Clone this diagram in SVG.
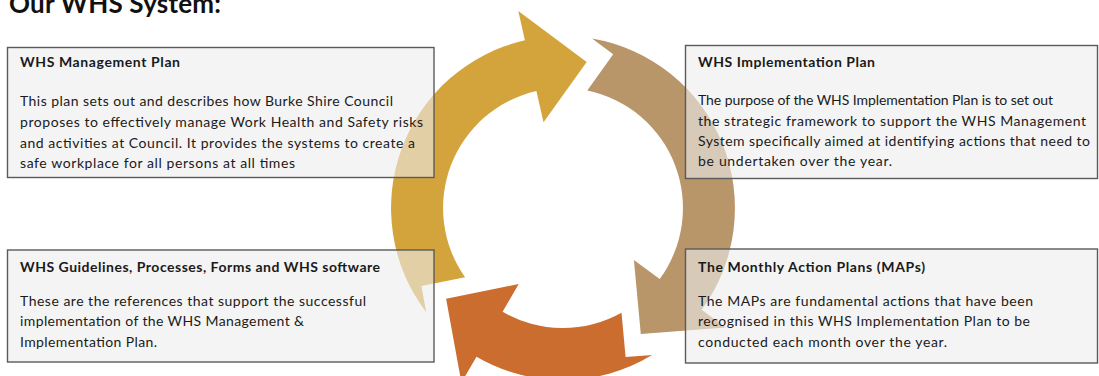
<svg xmlns="http://www.w3.org/2000/svg" width="1099" height="376" viewBox="0 0 1099 376">
  <style>
    .heading { font-family: Lato, "Liberation Sans", sans-serif; font-weight: 700; font-size: 26px; fill: #111; }
    .box { fill: #ececec; fill-opacity: 0.6; stroke: #5a5a5a; stroke-width: 1.4; }
    .ttl { font-family: Lato, "Liberation Sans", sans-serif; font-weight: 700; font-size: 14px; fill: #1a1a1a; }
    .txt { font-family: Lato, "Liberation Sans", sans-serif; font-size: 14px; fill: #1a1a1a; }
    .gold { fill: #d4a43c; }
    .tan { fill: #b9966a; }
    .rust { fill: #cc6d30; }
  </style>

  <rect width="1099" height="376" fill="#ffffff"/>

  <text class="heading" x="9" y="13" textLength="212">Our WHS System:</text>

  <!-- cycle of three curved arrows around (563,208), ring radii 120..172 -->
  <g id="connectors">
    <path id="arrow-gold" class="gold" d="M426.2,312.2 A172,172 0 0 1 524.9,40.3 L518.3,11.0 L586.7,61.9 L543.5,122.2 L536.4,91.0 A120,120 0 0 0 465.1,277.3 L421.4,286.1 Z"/>
    <path id="arrow-tan" class="tan" d="M592.0,38.5 A172,172 0 0 1 701.6,309.8 L725.8,327.6 L640.8,333.9 L633.9,260.1 L659.7,279.0 A120,120 0 0 0 587.3,90.5 L613.2,54.3 Z"/>
    <path id="arrow-rust" class="rust" d="M652.1,355.1 A172,172 0 0 1 476.5,356.7 L461.4,382.6 L446.1,298.7 L518.7,284.1 L502.6,311.7 A120,120 0 0 0 621.5,312.7 L625.6,357.1 Z"/>
  </g>

  <g id="management-plan">
    <rect class="box" x="7.5" y="47.5" width="426.5" height="130"/>
    <text class="ttl" x="20" y="67" textLength="160">WHS Management Plan</text>
    <text class="txt" x="20" y="105.5" textLength="373">This plan sets out and describes how Burke Shire Council</text>
    <text class="txt" x="20" y="126.5" textLength="403">proposes to effectively manage Work Health and Safety risks</text>
    <text class="txt" x="20" y="147.5" textLength="395">and activities at Council.  It provides the systems to create a</text>
    <text class="txt" x="20" y="168" textLength="275">safe workplace for all persons at all times</text>
  </g>

  <g id="implementation-plan">
    <rect class="box" x="685.5" y="45.5" width="412" height="133"/>
    <text class="ttl" x="698" y="67" textLength="177">WHS Implementation Plan</text>
    <text class="txt" x="698" y="105" textLength="355">The purpose of the WHS Implementation Plan is to set out</text>
    <text class="txt" x="698" y="125.5" textLength="388">the strategic framework to support the WHS Management</text>
    <text class="txt" x="698" y="146" textLength="392">System specifically aimed at identifying actions that need to</text>
    <text class="txt" x="698" y="166" textLength="194">be undertaken over the year.</text>
  </g>

  <g id="guidelines">
    <rect class="box" x="7.5" y="250" width="426.5" height="112"/>
    <text class="ttl" x="20" y="272" textLength="360">WHS Guidelines, Processes, Forms and WHS software</text>
    <text class="txt" x="20" y="305.5" textLength="346">These are the references that support the successful</text>
    <text class="txt" x="20" y="326" textLength="284">implementation of the WHS Management &amp;</text>
    <text class="txt" x="20" y="346.5" textLength="137">Implementation Plan.</text>
  </g>

  <g id="monthly-action-plans">
    <rect class="box" x="685.5" y="249" width="412" height="114"/>
    <text class="ttl" x="698" y="272" textLength="227">The Monthly Action Plans (MAPs)</text>
    <text class="txt" x="698" y="305.5" textLength="335">The MAPs are fundamental actions that have been</text>
    <text class="txt" x="698" y="326" textLength="332">recognised in this WHS Implementation Plan to be</text>
    <text class="txt" x="698" y="346.5" textLength="249">conducted each month over the year.</text>
  </g>
</svg>
